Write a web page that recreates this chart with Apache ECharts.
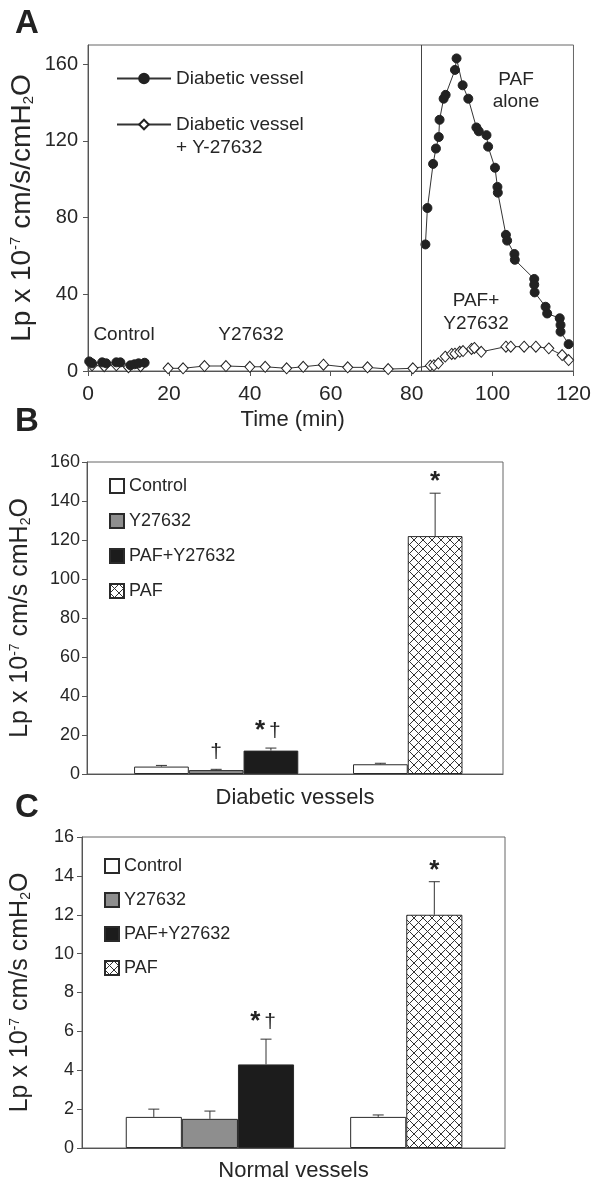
<!DOCTYPE html>
<html><head><meta charset="utf-8">
<script src="https://cdn.jsdelivr.net/npm/echarts@6/dist/echarts.min.js"></script>
<style>html,body{margin:0;padding:0;background:#fff}#c{width:594px;height:1188px}</style>
</head><body><div id="c"></div>
<script>
// ---------- Panel A data (time course) ----------
const timeTicks = [0, 20, 40, 60, 80, 100, 120];
const lpTicksA = [0, 40, 80, 120, 160];
const pafStartMin = 82.4;
// filled circles: Diabetic vessel ('-' = gap in the recording)
const diabeticVessel = [
  [0.3, 5], [1, 4], [3.5, 4.5], [4.5, 4], [7, 4.5], [8, 4.5], [10.5, 3], [11.5, 3.5], [12.5, 4], [14, 4.3],
  [50, '-'],
  [83.4, 66], [83.9, 85], [85.3, 108], [86.0, 116], [86.7, 122], [86.9, 131], [87.9, 142], [88.4, 144],
  [90.7, 157], [91.1, 163], [92.6, 149], [94.0, 142], [96.0, 127], [96.6, 125], [98.5, 123], [98.9, 117],
  [100.6, 106], [101.2, 96], [101.3, 93], [103.3, 71], [103.6, 68], [105.4, 61], [105.5, 58],
  [110.3, 48], [110.3, 45], [110.4, 41], [113.1, 33.5], [113.5, 30], [116.6, 27.5], [116.8, 24],
  [116.8, 20.5], [118.8, 14]
];
// open diamonds: Diabetic vessel + Y-27632
const diabeticVesselY = [
  [1, 3], [4, 2.5], [7, 3], [10, 2], [13, 2.5],
  [17, '-'],
  [19.8, 1.4], [23.5, 1.4], [28.8, 2.6], [34.1, 2.6], [40, 2.2], [43.8, 2.2], [49.1, 1.4], [53.2, 2.2],
  [58.2, 3.3], [64.2, 1.9], [69.1, 1.9], [74.2, 1], [80.3, 1.4], [84.6, 2.8], [85.5, 3], [86.6, 4],
  [88.3, 7.5], [89.9, 8.9], [90.7, 9], [91.9, 10], [92.7, 10.4], [94.8, 11.5], [95.5, 12], [97.2, 10],
  [103.3, 12.7], [104.5, 12.7], [107.8, 12.7], [110.7, 12.7], [113.9, 11.8], [117.2, 8.3], [118.8, 5.7]
];

// ---------- Panel B data (diabetic vessels) ----------
const treatments = ['Control', 'Y27632', 'PAF+Y27632', 'PAF'];
const bTreatment = ['Control', 'Y27632', 'PAF+Y27632', 'Control', 'PAF'];
const bSlot = [1, 2, 3, 5, 6];
const bMean = [3.8, 2, 12, 5, 122];
const bSem = [0.6, 0.4, 1.3, 0.5, 22];
const bMark = ['', '†', '* †', '', '*'];

// ---------- Panel C data (normal vessels) ----------
const cTreatment = ['Control', 'Y27632', 'PAF+Y27632', 'Control', 'PAF'];
const cSlot = [1, 2, 3, 5, 6];
const cMean = [1.6, 1.5, 4.3, 1.6, 12.0];
const cSem = [0.4, 0.4, 1.3, 0.1, 1.7];
const cMark = ['', '', '* †', '', '*'];

// ---------- styling ----------
const FB = 'Liberation Sans';
const TXT = '#262626';
const AX = '#555';

function hatchCanvas() {
  const c = document.createElement('canvas');
  c.width = 9; c.height = 9;
  const g = c.getContext('2d');
  g.fillStyle = '#fff'; g.fillRect(0, 0, 9, 9);
  g.fillStyle = '#333';
  for (let i = 0; i < 9; i++) { g.fillRect(i, i, 1, 1); g.fillRect(8 - i, i, 1, 1); }
  return c;
}
const hatch = { image: hatchCanvas(), repeat: 'repeat' };
const fills = { 'Control': '#ffffff', 'Y27632': '#8e8e8e', 'PAF+Y27632': '#1c1c1c', 'PAF': hatch };

function barSeries(trt, slot, mean, idx) {
  return treatments.map(t => ({
    type: 'bar', name: t, xAxisIndex: idx, yAxisIndex: idx,
    data: trt.map((c, i) => c === t ? [slot[i], mean[i]] : null).filter(Boolean),
    barWidth: '100%', barGap: '-100%',
    itemStyle: { color: fills[t], borderColor: '#2a2a2a', borderWidth: 1 },
    animation: false, silent: true
  }));
}
function errSeries(slot, mean, sem, marks, idx) {
  return {
    type: 'custom', xAxisIndex: idx, yAxisIndex: idx, z: 10, silent: true, animation: false,
    data: slot.map((s, i) => [s, mean[i], sem[i]]),
    renderItem: function (params, api) {
      const x = api.value(0), v = api.value(1), e = api.value(2);
      const b = api.coord([x, v]); const t = api.coord([x, v + e]);
      const cap = 5.5;
      const ch = [
        { type: 'line', shape: { x1: b[0], y1: b[1], x2: t[0], y2: t[1] }, style: { stroke: '#333', lineWidth: 1 } },
        { type: 'line', shape: { x1: t[0] - cap, y1: t[1], x2: t[0] + cap, y2: t[1] }, style: { stroke: '#333', lineWidth: 1 } }
      ];
      const m = marks[params.dataIndex];
      if (m) {
        const txt = m.split(' ').map(s => s === '*' ? '{s|*}' : '{d|†}').join('{g| }');
        const lone = (m === '*');
        ch.push({
          type: 'text', x: t[0] - (m.length > 1 ? 3 : 0), y: t[1] - (lone ? 0 : 6),
          style: {
            text: txt, textAlign: 'center', textVerticalAlign: 'bottom', align: 'center', verticalAlign: 'bottom',
            fill: '#222',
            rich: {
              s: { fontSize: 26, fontWeight: 'bold', fontFamily: FB, fill: '#222', lineHeight: 22 },
              d: { fontSize: 21, fontFamily: FB, fill: '#222', lineHeight: 22 },
              g: { fontSize: 14, fontFamily: FB, lineHeight: 22 }
            }
          }
        });
      }
      return { type: 'group', children: ch };
    }
  };
}

const yNameRich = (fs) => ({
  sup: { fontSize: Math.round(fs * 0.55), fontFamily: FB, color: TXT, verticalAlign: 'top', lineHeight: fs },
  sub: { fontSize: Math.round(fs * 0.55), fontFamily: FB, color: TXT, verticalAlign: 'bottom', lineHeight: fs }
});

const chart = echarts.init(document.getElementById('c'));
const option = {
  animation: false,
  backgroundColor: '#fff',
  title: [
    { text: 'A', left: 10, top: 2, textStyle: { fontSize: 33, fontWeight: 'bold', fontFamily: FB, color: '#222' } },
    { text: 'B', left: 10, top: 400, textStyle: { fontSize: 33, fontWeight: 'bold', fontFamily: FB, color: '#222' } },
    { text: 'C', left: 10, top: 786, textStyle: { fontSize: 33, fontWeight: 'bold', fontFamily: FB, color: '#222' } }
  ],
  grid: [
    { left: 88, right: 14, top: 45, bottom: 817, show: true, borderColor: '#666', borderWidth: 1 },
    { left: 87, right: 91, top: 462, bottom: 414, show: true, borderColor: '#666', borderWidth: 1 },
    { left: 82, right: 89, top: 837, bottom: 40, show: true, borderColor: '#666', borderWidth: 1 }
  ],
  legend: [
    {
      data: ['Diabetic vessel', 'Diabetic vessel + Y-27632'],
      orient: 'vertical', left: 111, top: 62, itemWidth: 54, itemHeight: 12, itemGap: 0,
      selectedMode: false,
      formatter: n => n.indexOf(' + ') > 0 ? '\n' + n.replace(' + ', '\n+ ') : n,
      textStyle: { fontFamily: FB, fontSize: 19, color: TXT, lineHeight: 23 }
    },
    {
      data: treatments, orient: 'vertical', left: 104, top: 472, itemWidth: 14, itemHeight: 14, itemGap: 17,
      icon: 'rect', selectedMode: false,
      textStyle: { fontFamily: FB, fontSize: 18, color: TXT, lineHeight: 16 }
    },
    {
      data: treatments, orient: 'vertical', left: 99, top: 852, itemWidth: 14, itemHeight: 14, itemGap: 16,
      icon: 'rect', selectedMode: false,
      textStyle: { fontFamily: FB, fontSize: 18, color: TXT, lineHeight: 16 }
    }
  ],
  xAxis: [
    {
      gridIndex: 0, type: 'value', min: 0, max: 120, interval: 20,
      axisLine: { lineStyle: { color: AX } }, splitLine: { show: false },
      axisTick: { length: 5, lineStyle: { color: AX }, customValues: timeTicks },
      axisLabel: { fontFamily: FB, fontSize: 21, color: TXT, margin: 13, customValues: timeTicks },
      name: 'Time (min)', nameLocation: 'middle', nameGap: 38, nameMoveOverlap: false,
      nameTextStyle: { fontFamily: FB, fontSize: 22, color: TXT, padding: [0, 76, 0, 0] }
    },
    {
      gridIndex: 1, type: 'value', min: -0.36, max: 7.24,
      axisLine: { lineStyle: { color: AX } }, splitLine: { show: false },
      axisTick: { show: false }, axisLabel: { show: false },
      name: 'Diabetic vessels', nameLocation: 'middle', nameGap: 13, nameMoveOverlap: false,
      nameTextStyle: { fontFamily: FB, fontSize: 22, color: TXT }
    },
    {
      gridIndex: 2, type: 'value', min: -0.28, max: 7.26,
      axisLine: { lineStyle: { color: AX } }, splitLine: { show: false },
      axisTick: { show: false }, axisLabel: { show: false },
      name: 'Normal vessels', nameLocation: 'middle', nameGap: 12, nameMoveOverlap: false,
      nameTextStyle: { fontFamily: FB, fontSize: 22, color: TXT }
    }
  ],
  yAxis: [
    {
      gridIndex: 0, type: 'value', min: 0, max: 170,
      axisLine: { show: true, onZero: false, lineStyle: { color: AX } }, splitLine: { show: false },
      axisTick: { show: true, length: 5, lineStyle: { color: AX }, customValues: lpTicksA },
      axisLabel: { fontFamily: FB, fontSize: 20, color: TXT, margin: 10, customValues: lpTicksA },
      name: 'Lp x 10{sup|-7} cm/s/cmH{sub|2}O', nameLocation: 'middle', nameGap: 52, nameRotate: 90, nameMoveOverlap: false,
      nameTextStyle: { fontFamily: FB, fontSize: 28, color: TXT, rich: yNameRich(28) }
    },
    {
      gridIndex: 1, type: 'value', min: 0, max: 160, interval: 20,
      axisLine: { show: true, onZero: false, lineStyle: { color: AX } }, splitLine: { show: false },
      axisTick: { show: true, length: 5, lineStyle: { color: AX } },
      axisLabel: { fontFamily: FB, fontSize: 18, color: TXT, margin: 7 },
      name: 'Lp x 10{sup|-7} cm/s cmH{sub|2}O', nameLocation: 'middle', nameGap: 54, nameRotate: 90, nameMoveOverlap: false,
      nameTextStyle: { fontFamily: FB, fontSize: 25, color: TXT, rich: yNameRich(25) }
    },
    {
      gridIndex: 2, type: 'value', min: 0, max: 16, interval: 2,
      axisLine: { show: true, onZero: false, lineStyle: { color: AX } }, splitLine: { show: false },
      axisTick: { show: true, length: 5, lineStyle: { color: AX } },
      axisLabel: { fontFamily: FB, fontSize: 18, color: TXT, margin: 8 },
      name: 'Lp x 10{sup|-7} cm/s cmH{sub|2}O', nameLocation: 'middle', nameGap: 49, nameRotate: 90, nameMoveOverlap: false,
      nameTextStyle: { fontFamily: FB, fontSize: 25, color: TXT, rich: yNameRich(25) }
    }
  ],
  graphic: [
    { type: 'text', x: 124, y: 335, style: { text: 'Control', font: '19px "Liberation Sans"', fill: TXT, textAlign: 'center', textVerticalAlign: 'middle', align: 'center', verticalAlign: 'middle' } },
    { type: 'text', x: 251, y: 335, style: { text: 'Y27632', font: '19px "Liberation Sans"', fill: TXT, textAlign: 'center', textVerticalAlign: 'middle', align: 'center', verticalAlign: 'middle' } },
    { type: 'text', x: 516, y: 91, style: { text: 'PAF\nalone', font: '19px "Liberation Sans"', lineHeight: 22, fill: TXT, textAlign: 'center', textVerticalAlign: 'middle', align: 'center', verticalAlign: 'middle' } },
    { type: 'text', x: 476, y: 312, style: { text: 'PAF+\nY27632', font: '19px "Liberation Sans"', lineHeight: 23, fill: TXT, textAlign: 'center', textVerticalAlign: 'middle', align: 'center', verticalAlign: 'middle' } }
  ],
  series: [
    {
      type: 'line', name: 'Diabetic vessel + Y-27632', xAxisIndex: 0, yAxisIndex: 0, data: diabeticVesselY,
      symbol: 'diamond', symbolSize: [10, 11], showSymbol: true, connectNulls: false,
      itemStyle: { color: '#fff', borderColor: '#222', borderWidth: 1 },
      lineStyle: { color: '#333', width: 1 }, silent: true
    },
    {
      type: 'line', name: 'Diabetic vessel', xAxisIndex: 0, yAxisIndex: 0, data: diabeticVessel,
      symbol: 'circle', symbolSize: 9, showSymbol: true, connectNulls: false,
      itemStyle: { color: '#222', borderColor: '#222', borderWidth: 1 },
      lineStyle: { color: '#333', width: 1 }, silent: true,
      markLine: {
        silent: true, symbol: 'none', label: { show: false },
        lineStyle: { color: '#444', type: 'solid', width: 1 },
        data: [{ xAxis: pafStartMin }]
      }
    },
    ...barSeries(bTreatment, bSlot, bMean, 1),
    errSeries(bSlot, bMean, bSem, bMark, 1),
    ...barSeries(cTreatment, cSlot, cMean, 2),
    errSeries(cSlot, cMean, cSem, cMark, 2)
  ]
};
chart.setOption(option);
</script>
</body></html>
